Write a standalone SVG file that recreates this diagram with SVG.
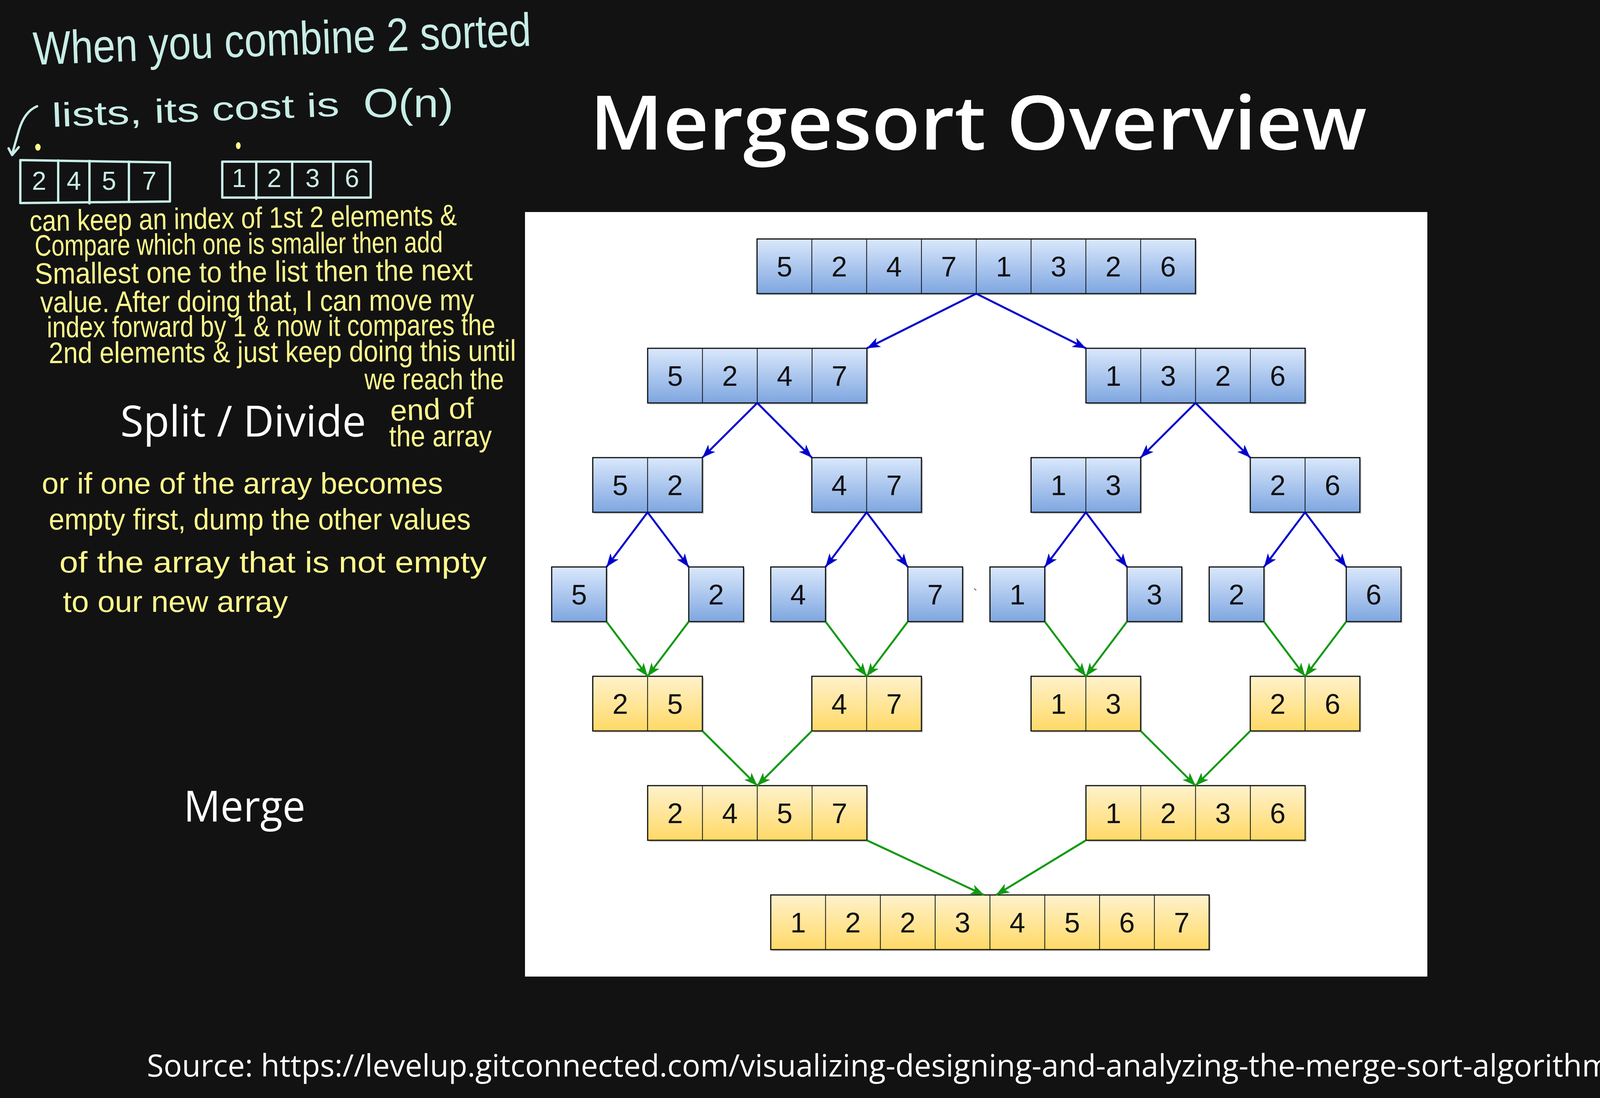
<svg xmlns="http://www.w3.org/2000/svg" width="4999" height="2812" viewBox="0 0 4999 2812">
<defs>
  <linearGradient id="gb" x1="0" y1="0" x2="0" y2="1">
    <stop offset="0" stop-color="#dae8fc"/>
    <stop offset="1" stop-color="#7ea6e0"/>
  </linearGradient>
  <linearGradient id="gy" x1="0" y1="0" x2="0" y2="1">
    <stop offset="0" stop-color="#fff2cc"/>
    <stop offset="1" stop-color="#ffd966"/>
  </linearGradient>
  <marker id="ab" viewBox="0 0 34 26" refX="34" refY="13" markerWidth="34" markerHeight="26" markerUnits="userSpaceOnUse" orient="auto">
    <path d="M0,0 L34,13 L0,26 L9,13 Z" fill="#0000cc"/>
  </marker>
  <marker id="ag" viewBox="0 0 34 26" refX="34" refY="13" markerWidth="34" markerHeight="26" markerUnits="userSpaceOnUse" orient="auto">
    <path d="M0,0 L34,13 L0,26 L9,13 Z" fill="#119911"/>
  </marker>
  <style>
    .bg{fill:#121212}
    .panel{fill:#ffffff}
    .sh{fill:#000;opacity:0.18}
    .bb{fill:url(#gb);stroke:#111;stroke-width:3}
    .yb{fill:url(#gy);stroke:#111;stroke-width:3}
    .dv{stroke:#111;stroke-width:2}
    .num{font-family:"Liberation Sans",Arial,sans-serif;font-size:72px;fill:#111;text-anchor:middle}
    .blue{stroke:#0000cc;stroke-width:5;fill:none;marker-end:url(#ab)}
    .green{stroke:#119911;stroke-width:5;fill:none;marker-end:url(#ag)}
    .cy{font-family:"Liberation Sans",Arial,sans-serif;fill:#c8ede6}
    .yl{font-family:"Liberation Sans",Arial,sans-serif;fill:#fff98c;font-size:76px}
    .hand{fill:none;stroke:#c8ede6;stroke-width:6;stroke-linecap:round;stroke-linejoin:round}
    .hd{font-family:"Liberation Sans",Arial,sans-serif;fill:#c8ede6;font-size:66px;text-anchor:middle}
    .wt{font-family:"Open Sans","Liberation Sans",sans-serif;fill:#ffffff}
  </style>
</defs>
<rect class="bg" x="0" y="0" width="4999" height="2812"/>

<!-- Title -->
<text id="title" class="wt" x="1510" y="383" font-weight="600" font-size="192" textLength="1989" lengthAdjust="spacingAndGlyphs">Mergesort Overview</text>

<!-- Handwritten notes (cyan) -->
<g id="note-cost">
  <text class="cy" x="86" y="166" font-size="120" transform="rotate(-2.2 86 166)" textLength="1276" lengthAdjust="spacingAndGlyphs">When you combine 2 sorted</text>
  <text class="cy" x="134" y="325" font-size="86" transform="rotate(-2.2 134 325)" textLength="736" lengthAdjust="spacingAndGlyphs">lists, its cost is</text>
  <text class="cy" x="930" y="300" font-size="104" textLength="231" lengthAdjust="spacingAndGlyphs">O(n)</text>
  <path class="hand" d="M95,272 Q62,286 48,335 L31,395"/>
  <path class="hand" d="M22,380 L31,397 L48,377"/>
</g>
<g id="dots">
  <ellipse cx="97" cy="377" rx="7" ry="9" fill="#fff98c"/>
  <ellipse cx="610" cy="373" rx="6" ry="9" fill="#fff98c"/>
</g>
<g id="hand-list-a">
  <path class="hand" d="M52,410 L435,416 L435,516 L52,520 Z"/>
  <path class="hand" d="M149,411 L149,519 M229,412 L229,521 M330,414 L330,517"/>
  <text class="hd" x="100" y="486">2</text>
  <text class="hd" x="189" y="486">4</text>
  <text class="hd" x="279" y="486">5</text>
  <text class="hd" x="382" y="486">7</text>
</g>
<g id="hand-list-b">
  <path class="hand" d="M569,414 L949,414 L949,506 L569,506 Z"/>
  <path class="hand" d="M656,414 L656,509 M748,414 L748,506 M853,414 L853,506"/>
  <text class="hd" x="612" y="479">1</text>
  <text class="hd" x="702" y="479">2</text>
  <text class="hd" x="800" y="479">3</text>
  <text class="hd" x="901" y="479">6</text>
</g>

<!-- Handwritten notes (yellow) -->
<g id="note-merge">
  <text class="yl" x="76" y="592" transform="rotate(-0.8 76 592)" textLength="1094" lengthAdjust="spacingAndGlyphs">can keep an index of 1st 2 elements &amp;</text>
  <text class="yl" x="89" y="655" transform="rotate(-0.5 89 655)" textLength="1045" lengthAdjust="spacingAndGlyphs">Compare which one is smaller then add</text>
  <text class="yl" x="89" y="727" transform="rotate(-0.5 89 727)" textLength="1121" lengthAdjust="spacingAndGlyphs">Smallest one to the list then the next</text>
  <text class="yl" x="103" y="800" transform="rotate(-0.3 103 800)" textLength="1111" lengthAdjust="spacingAndGlyphs">value. After doing that, I can move my</text>
  <text class="yl" x="120" y="864" transform="rotate(-0.3 120 864)" textLength="1148" lengthAdjust="spacingAndGlyphs">index forward by 1 &amp; now it compares the</text>
  <text class="yl" x="125" y="930" transform="rotate(-0.3 125 930)" textLength="1196" lengthAdjust="spacingAndGlyphs">2nd elements &amp; just keep doing this until</text>
  <text class="yl" x="933" y="997" textLength="357" lengthAdjust="spacingAndGlyphs">we reach the</text>
  <text class="yl" x="1000" y="1078" transform="rotate(-2 1000 1078)" textLength="214" lengthAdjust="spacingAndGlyphs">end of</text>
  <text class="yl" x="996" y="1143" textLength="263" lengthAdjust="spacingAndGlyphs">the array</text>
  <text class="yl" x="107" y="1264" textLength="1027" lengthAdjust="spacingAndGlyphs">or if one of the array becomes</text>
  <text class="yl" x="125" y="1356" textLength="1080" lengthAdjust="spacingAndGlyphs">empty first, dump the other values</text>
  <text class="yl" x="152" y="1466" textLength="1094" lengthAdjust="spacingAndGlyphs">of the array that is not empty</text>
  <text class="yl" x="161" y="1567" textLength="576" lengthAdjust="spacingAndGlyphs">to our new array</text>
</g>

<text id="label-split" class="wt" x="308" y="1118" font-size="110" textLength="629" lengthAdjust="spacingAndGlyphs">Split / Divide</text>
<text id="label-merge" class="wt" x="470" y="2104" font-size="110" textLength="312" lengthAdjust="spacingAndGlyphs">Merge</text>

<!-- Diagram panel -->
<rect class="panel" x="1344" y="543" width="2310" height="1958"/>

<!-- Row 1 -->
<g id="r1">
  <rect class="sh" x="1942" y="616" width="1122.4" height="140"/>
  <rect class="bb" x="1938" y="612" width="1122.4" height="140"/>
  <path class="dv" d="M2078.3,612V752M2218.6,612V752M2358.9,612V752M2499.2,612V752M2639.5,612V752M2779.8,612V752M2920.1,612V752"/>
  <text class="num" x="2008.2" y="708">5</text><text class="num" x="2148.5" y="708">2</text><text class="num" x="2288.8" y="708">4</text><text class="num" x="2429.1" y="708">7</text><text class="num" x="2569.4" y="708">1</text><text class="num" x="2709.7" y="708">3</text><text class="num" x="2850" y="708">2</text><text class="num" x="2990.3" y="708">6</text>
</g>

<!-- Row 2 -->
<g id="r2-left">
  <rect class="sh" x="1662" y="896" width="561.2" height="140"/>
  <rect class="bb" x="1658" y="892" width="561.2" height="140"/>
  <path class="dv" d="M1798.3,892V1032M1938.6,892V1032M2078.9,892V1032"/>
  <text class="num" x="1728.2" y="988">5</text><text class="num" x="1868.5" y="988">2</text><text class="num" x="2008.8" y="988">4</text><text class="num" x="2149.1" y="988">7</text>
</g>
<g id="r2-right">
  <rect class="sh" x="2784" y="896" width="561.2" height="140"/>
  <rect class="bb" x="2780" y="892" width="561.2" height="140"/>
  <path class="dv" d="M2920.3,892V1032M3060.6,892V1032M3200.9,892V1032"/>
  <text class="num" x="2850.2" y="988">1</text><text class="num" x="2990.5" y="988">3</text><text class="num" x="3130.8" y="988">2</text><text class="num" x="3271.1" y="988">6</text>
</g>

<!-- Row 3 -->
<g id="r3-a">
  <rect class="sh" x="1521.5" y="1176" width="280.6" height="140"/>
  <rect class="bb" x="1517.5" y="1172" width="280.6" height="140"/>
  <path class="dv" d="M1657.8,1172V1312"/>
  <text class="num" x="1587.7" y="1268">5</text><text class="num" x="1728" y="1268">2</text>
</g>
<g id="r3-b">
  <rect class="sh" x="2082.3" y="1176" width="280.6" height="140"/>
  <rect class="bb" x="2078.3" y="1172" width="280.6" height="140"/>
  <path class="dv" d="M2218.6,1172V1312"/>
  <text class="num" x="2148.5" y="1268">4</text><text class="num" x="2288.8" y="1268">7</text>
</g>
<g id="r3-c">
  <rect class="sh" x="2643.5" y="1176" width="280.6" height="140"/>
  <rect class="bb" x="2639.5" y="1172" width="280.6" height="140"/>
  <path class="dv" d="M2779.8,1172V1312"/>
  <text class="num" x="2709.7" y="1268">1</text><text class="num" x="2850" y="1268">3</text>
</g>
<g id="r3-d">
  <rect class="sh" x="3204.7" y="1176" width="280.6" height="140"/>
  <rect class="bb" x="3200.7" y="1172" width="280.6" height="140"/>
  <path class="dv" d="M3341,1172V1312"/>
  <text class="num" x="3270.9" y="1268">2</text><text class="num" x="3411.2" y="1268">6</text>
</g>

<!-- Row 4 singles -->
<g id="r4-1"><rect class="sh" x="1416.3" y="1456" width="140.3" height="140"/><rect class="bb" x="1412.3" y="1452" width="140.3" height="140"/><text class="num" x="1482.4" y="1548">5</text></g>
<g id="r4-2"><rect class="sh" x="1767.2" y="1456" width="140.3" height="140"/><rect class="bb" x="1763.2" y="1452" width="140.3" height="140"/><text class="num" x="1833.3" y="1548">2</text></g>
<g id="r4-3"><rect class="sh" x="1977.1" y="1456" width="140.3" height="140"/><rect class="bb" x="1973.1" y="1452" width="140.3" height="140"/><text class="num" x="2043.2" y="1548">4</text></g>
<g id="r4-4"><rect class="sh" x="2328" y="1456" width="140.3" height="140"/><rect class="bb" x="2324" y="1452" width="140.3" height="140"/><text class="num" x="2394.1" y="1548">7</text></g>
<g id="r4-5"><rect class="sh" x="2538.3" y="1456" width="140.3" height="140"/><rect class="bb" x="2534.3" y="1452" width="140.3" height="140"/><text class="num" x="2604.4" y="1548">1</text></g>
<g id="r4-6"><rect class="sh" x="2889.2" y="1456" width="140.3" height="140"/><rect class="bb" x="2885.2" y="1452" width="140.3" height="140"/><text class="num" x="2955.3" y="1548">3</text></g>
<g id="r4-7"><rect class="sh" x="3099.5" y="1456" width="140.3" height="140"/><rect class="bb" x="3095.5" y="1452" width="140.3" height="140"/><text class="num" x="3165.6" y="1548">2</text></g>
<g id="r4-8"><rect class="sh" x="3450.4" y="1456" width="140.3" height="140"/><rect class="bb" x="3446.4" y="1452" width="140.3" height="140"/><text class="num" x="3516.5" y="1548">6</text></g>
<path id="speck" d="M2494,1507 L2499,1512" stroke="#555" stroke-width="2"/>

<!-- Row 5 merged pairs -->
<g id="r5-a">
  <rect class="sh" x="1521.5" y="1736" width="280.6" height="140"/>
  <rect class="yb" x="1517.5" y="1732" width="280.6" height="140"/>
  <path class="dv" d="M1657.8,1732V1872"/>
  <text class="num" x="1587.7" y="1828">2</text><text class="num" x="1728" y="1828">5</text>
</g>
<g id="r5-b">
  <rect class="sh" x="2082.3" y="1736" width="280.6" height="140"/>
  <rect class="yb" x="2078.3" y="1732" width="280.6" height="140"/>
  <path class="dv" d="M2218.6,1732V1872"/>
  <text class="num" x="2148.5" y="1828">4</text><text class="num" x="2288.8" y="1828">7</text>
</g>
<g id="r5-c">
  <rect class="sh" x="2643.5" y="1736" width="280.6" height="140"/>
  <rect class="yb" x="2639.5" y="1732" width="280.6" height="140"/>
  <path class="dv" d="M2779.8,1732V1872"/>
  <text class="num" x="2709.7" y="1828">1</text><text class="num" x="2850" y="1828">3</text>
</g>
<g id="r5-d">
  <rect class="sh" x="3204.7" y="1736" width="280.6" height="140"/>
  <rect class="yb" x="3200.7" y="1732" width="280.6" height="140"/>
  <path class="dv" d="M3341,1732V1872"/>
  <text class="num" x="3270.9" y="1828">2</text><text class="num" x="3411.2" y="1828">6</text>
</g>

<!-- Row 6 -->
<g id="r6-left">
  <rect class="sh" x="1662" y="2016" width="561.2" height="140"/>
  <rect class="yb" x="1658" y="2012" width="561.2" height="140"/>
  <path class="dv" d="M1798.3,2012V2152M1938.6,2012V2152M2078.9,2012V2152"/>
  <text class="num" x="1728.2" y="2108">2</text><text class="num" x="1868.5" y="2108">4</text><text class="num" x="2008.8" y="2108">5</text><text class="num" x="2149.1" y="2108">7</text>
</g>
<g id="r6-right">
  <rect class="sh" x="2784" y="2016" width="561.2" height="140"/>
  <rect class="yb" x="2780" y="2012" width="561.2" height="140"/>
  <path class="dv" d="M2920.3,2012V2152M3060.6,2012V2152M3200.9,2012V2152"/>
  <text class="num" x="2850.2" y="2108">1</text><text class="num" x="2990.5" y="2108">2</text><text class="num" x="3130.8" y="2108">3</text><text class="num" x="3271.1" y="2108">6</text>
</g>

<!-- Row 7 -->
<g id="r7">
  <rect class="sh" x="1977.1" y="2296" width="1122.4" height="140"/>
  <rect class="yb" x="1973.1" y="2292" width="1122.4" height="140"/>
  <path class="dv" d="M2113.4,2292V2432M2253.7,2292V2432M2394,2292V2432M2534.3,2292V2432M2674.6,2292V2432M2814.9,2292V2432M2955.2,2292V2432"/>
  <text class="num" x="2043.2" y="2388">1</text><text class="num" x="2183.5" y="2388">2</text><text class="num" x="2323.8" y="2388">2</text><text class="num" x="2464.1" y="2388">3</text><text class="num" x="2604.4" y="2388">4</text><text class="num" x="2744.7" y="2388">5</text><text class="num" x="2885" y="2388">6</text><text class="num" x="3025.3" y="2388">7</text>
</g>

<!-- Connectors -->
<g id="connectors">
  <path class="blue" d="M2499.2,752 L2219.2,892"/>
  <path class="blue" d="M2499.2,752 L2780,892"/>
  <path class="blue" d="M1938.6,1032 L1798.1,1172"/>
  <path class="blue" d="M1938.6,1032 L2078.3,1172"/>
  <path class="blue" d="M3060.6,1032 L2920.1,1172"/>
  <path class="blue" d="M3060.6,1032 L3200.7,1172"/>
  <path class="blue" d="M1657.8,1312 L1552.6,1452"/>
  <path class="blue" d="M1657.8,1312 L1763.2,1452"/>
  <path class="blue" d="M2218.6,1312 L2113.4,1452"/>
  <path class="blue" d="M2218.6,1312 L2324,1452"/>
  <path class="blue" d="M2779.8,1312 L2674.6,1452"/>
  <path class="blue" d="M2779.8,1312 L2885.2,1452"/>
  <path class="blue" d="M3341,1312 L3235.8,1452"/>
  <path class="blue" d="M3341,1312 L3446.4,1452"/>

  <path class="green" d="M1552.6,1592 L1657.8,1732"/>
  <path class="green" d="M1763.2,1592 L1657.8,1732"/>
  <path class="green" d="M2113.4,1592 L2218.6,1732"/>
  <path class="green" d="M2324,1592 L2218.6,1732"/>
  <path class="green" d="M2674.6,1592 L2779.8,1732"/>
  <path class="green" d="M2885.2,1592 L2779.8,1732"/>
  <path class="green" d="M3235.8,1592 L3341,1732"/>
  <path class="green" d="M3446.4,1592 L3341,1732"/>
  <path class="green" d="M1798.1,1872 L1938.6,2012"/>
  <path class="green" d="M2078.3,1872 L1938.6,2012"/>
  <path class="green" d="M2920.1,1872 L3060.6,2012"/>
  <path class="green" d="M3200.7,1872 L3060.6,2012"/>
  <path class="green" d="M2219.2,2152 L2519,2292"/>
  <path class="green" d="M2780,2152 L2550,2292"/>
</g>

<!-- Footer -->
<text id="source" class="wt" x="376" y="2757" font-size="78" textLength="4244" lengthAdjust="spacingAndGlyphs">Source: https://levelup.gitconnected.com/visualizing-designing-and-analyzing-the-merge-sort-algorithm-cf17e3f0371f</text>
<text id="page" x="4951" y="2770" font-family="'Open Sans','Liberation Sans',sans-serif" font-size="34" fill="#cccccc" text-anchor="middle">4</text>
</svg>
